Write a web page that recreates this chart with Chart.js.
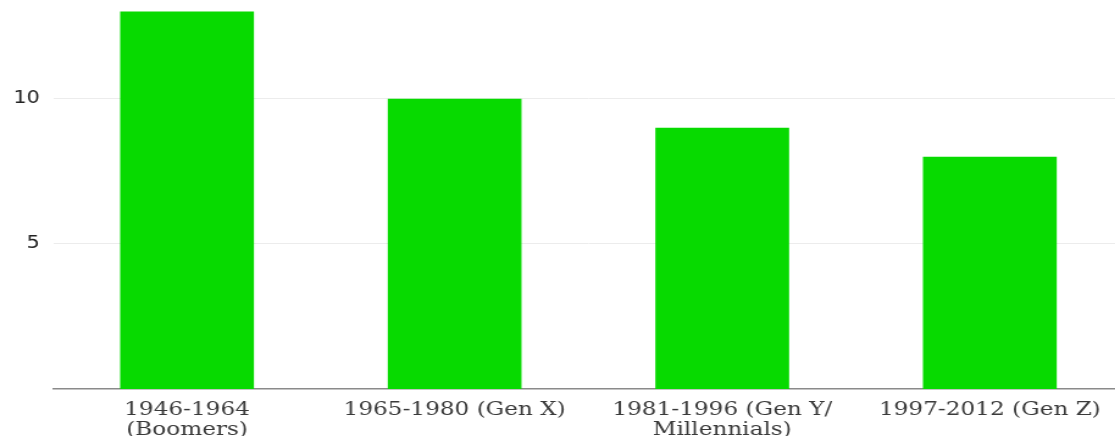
<!DOCTYPE html>
<html>
<head>
<meta charset="utf-8">
<script src="https://cdn.jsdelivr.net/npm/chart.js@4/dist/chart.umd.min.js"></script>
<style>
  html, body { margin: 0; padding: 0; background: #fff; overflow: hidden; }
  /* 横に引き伸ばして描く */
  #wrap {
    position: relative;
    width: 921px;
    height: 472px;
    margin-top: -21px;
    transform: scaleX(1.22);
    transform-origin: 0 0;
  }
</style>
</head>
<body>
<div id="wrap"><canvas id="genChart"></canvas></div>
<script>
// 世代ごとの値
var categories = [["1946-1964", "(Boomers)"], "1965-1980 (Gen X)", ["1981-1996 (Gen Y/", "Millennials)"], "1997-2012 (Gen Z)"];
var values = [13, 10, 9, 8];
var yTicks = [5, 10];

var ctx = document.getElementById("genChart");

var genChart = new Chart(ctx, {
    type: 'bar',
    data: {
        labels: categories,
        datasets: [{
            data: values,
            backgroundColor: "rgb(7,218,0)",
            borderWidth: 0,
            barPercentage: 0.5,
            categoryPercentage: 1.0
        }]
    },
    options: {
        responsive: true,
        maintainAspectRatio: false,
        animation: false,
        layout: { padding: { top: 0, right: 0, bottom: 0, left: 0 } },
        plugins: {
            legend: { display: false },
            tooltip: { enabled: false }
        },
        scales: {
            x: {
                grid: { display: false, drawTicks: false },
                border: { color: "#8a8a8a", width: 1.5 },
                ticks: {
                    color: "#3a3a3a",
                    padding: 11,
                    maxRotation: 0,
                    autoSkip: false,
                    font: { family: "DejaVu Serif", size: 19, lineHeight: 1.05 }
                }
            },
            y: {
                min: 0,
                max: 13.39,
                afterBuildTicks: function (axis) {
                    axis.ticks = yTicks.map(function (v) { return { value: v }; });
                },
                grid: { color: "#ececec", lineWidth: 1, drawTicks: false },
                border: { display: false },
                ticks: {
                    color: "#222",
                    padding: 11,
                    font: { family: "DejaVu Sans", size: 17 }
                }
            }
        }
    }
});
</script>
</body>
</html>
